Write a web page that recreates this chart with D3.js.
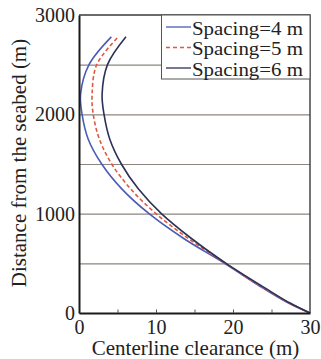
<!DOCTYPE html>
<html>
<head>
<meta charset="utf-8">
<script src="https://cdn.jsdelivr.net/npm/d3@7"></script>
<style>
  html, body { margin: 0; padding: 0; background: #fff; }
  svg { display: block; font-family: "Liberation Serif", "Times New Roman", serif; }
</style>
</head>
<body>
<svg id="chart" width="321" height="359"></svg>
<script>
// Distance from the seabed (m) at which each clearance value is sampled
const depths = [0, 100, 250, 500, 750, 1000, 1250, 1500, 1750, 2000, 2200, 2500, 2780];

// Centerline clearance (m) for each riser spacing
const spacing4 = [30, 27.2, 23.9, 18.9, 13.6, 9.1, 5.55, 2.95, 1.2, 0.4, 0.2, 1.3, 4.2];
const spacing5 = [30, 27.3, 24.0, 19.0, 14.2, 10.0, 6.7, 4.25, 2.65, 1.85, 1.7, 2.3, 5.1];
const spacing6 = [30, 27.4, 24.2, 19.1, 14.6, 10.7, 7.7, 5.5, 4.0, 3.25, 3.0, 3.7, 6.1];

const seriesNames = ["Spacing=4 m", "Spacing=5 m", "Spacing=6 m"];

// Axis ticks
const xTicks = [0, 10, 20, 30];
const xMinorTicks = [5, 10, 15, 20, 25];
const yTicks = [0, 1000, 2000, 3000];
const yGrid = [500, 1000, 1500, 2000, 2500];

const series = [
  { name: seriesNames[0], values: spacing4, color: "#4a5cb4", dash: null },
  { name: seriesNames[1], values: spacing5, color: "#de5a3c", dash: "4,2.5" },
  { name: seriesNames[2], values: spacing6, color: "#2d3154", dash: null }
];

const svg = d3.select("#chart");
const plotL = 79, plotR = 310, plotT = 15, plotB = 313;

const x = d3.scaleLinear().domain([0, 30]).range([plotL, plotR]);
const y = d3.scaleLinear().domain([0, 3000]).range([plotB, plotT]);

// Horizontal grid lines
svg.append("g")
  .attr("transform", `translate(${plotL},0)`)
  .call(d3.axisLeft(y).tickValues(yGrid).tickSize(-(plotR - plotL)).tickFormat(""))
  .call(g => g.select(".domain").remove())
  .call(g => g.selectAll("line").attr("stroke", "#8d857f").attr("stroke-width", 1.1));

// Top and right frame
svg.append("path")
  .attr("d", `M${plotL},${plotT}H${plotR}V${plotB}`)
  .attr("fill", "none")
  .attr("stroke", "#3a3a3a")
  .attr("stroke-width", 1.4);

// Curves
const line = d3.line()
  .x(d => x(d[0]))
  .y(d => y(d[1]))
  .curve(d3.curveCatmullRom.alpha(0.5));

const curves = svg.append("g");
series.forEach(s => {
  curves.append("path")
    .datum(s.values.map((v, i) => [v, depths[i]]))
    .attr("d", line)
    .attr("fill", "none")
    .attr("stroke", s.color)
    .attr("stroke-width", 1.6)
    .attr("stroke-dasharray", s.dash);
});

// Bottom axis: labels
svg.append("g")
  .attr("transform", `translate(0,${plotB})`)
  .call(d3.axisBottom(x).tickValues(xTicks).tickSize(0).tickPadding(7).tickFormat(d3.format("d")))
  .call(g => g.select(".domain").remove())
  .call(g => g.selectAll("text").attr("font-size", 20).attr("font-family", "Liberation Serif").attr("fill", "#222"));

// Bottom axis: inward tick marks and line
svg.append("g")
  .attr("transform", `translate(0,${plotB})`)
  .call(d3.axisBottom(x).tickValues(xMinorTicks).tickSizeInner(-3.5).tickSizeOuter(0).tickFormat(""))
  .call(g => g.select(".domain").attr("stroke", "#1a1a1a").attr("stroke-width", 2))
  .call(g => g.selectAll(".tick line").attr("stroke", "#555").attr("stroke-width", 1));

// Left axis
svg.append("g")
  .attr("transform", `translate(${plotL},0)`)
  .call(d3.axisLeft(y).tickValues(yTicks).tickSize(0).tickSizeOuter(0).tickPadding(4).tickFormat(d3.format("d")))
  .call(g => g.select(".domain").attr("stroke", "#1a1a1a").attr("stroke-width", 2))
  .call(g => g.selectAll("text").attr("font-size", 20).attr("font-family", "Liberation Serif").attr("fill", "#222"));

// Axis titles
svg.append("text")
  .attr("x", (plotL + plotR) / 2 + 1)
  .attr("y", 355)
  .attr("text-anchor", "middle")
  .attr("font-size", 21)
  .attr("fill", "#222")
  .text("Centerline clearance (m)");

svg.append("text")
  .attr("transform", `translate(26,${(plotT + plotB) / 2 - 1}) rotate(-90)`)
  .attr("text-anchor", "middle")
  .attr("font-size", 21)
  .attr("fill", "#222")
  .text("Distance from the seabed (m)");

// Legend
const legend = svg.append("g");
legend.append("rect")
  .attr("x", 161.5).attr("y", plotT)
  .attr("width", plotR - 161.5).attr("height", 64)
  .attr("fill", "#fff")
  .attr("stroke", "#555")
  .attr("stroke-width", 1);

series.forEach((s, i) => {
  const by = 34.5 + i * 20.5;
  legend.append("line")
    .attr("x1", 166).attr("x2", 191)
    .attr("y1", by - 7.5).attr("y2", by - 7.5)
    .attr("stroke", s.color)
    .attr("stroke-width", 1.3)
    .attr("stroke-dasharray", s.dash ? "4,3" : null);
  legend.append("text")
    .attr("x", 192).attr("y", by)
    .attr("font-size", 19)
    .attr("textLength", 111)
    .attr("lengthAdjust", "spacingAndGlyphs")
    .attr("fill", "#222")
    .text(s.name);
});
</script>
</body>
</html>
